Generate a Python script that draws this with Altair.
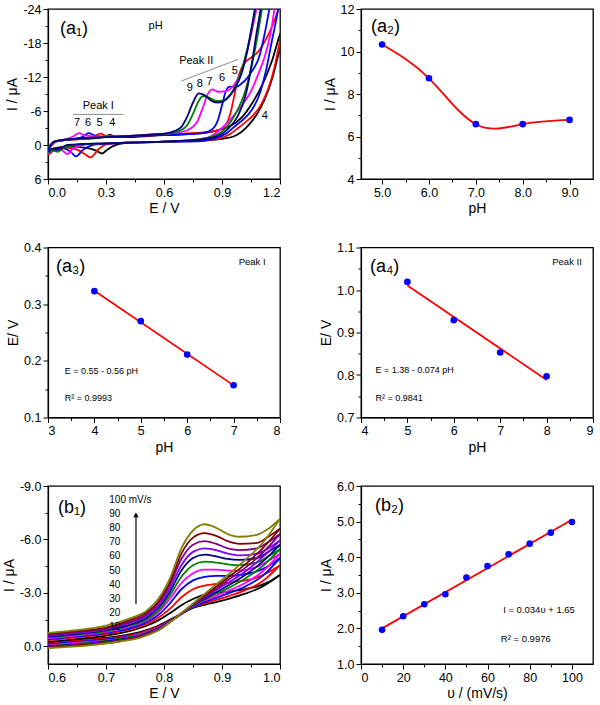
import altair as alt
import pandas as pd

SANS = "Liberation Sans"

# ---------------- (a1) cyclic voltammograms at pH 4-9 ----------------
a1_ph = ["4", "5", "6", "7", "8", "9"]
a1_colors = ["#000000", "#ff0000", "#0000ff", "#ff00ff", "#008000", "#000080"]

a1_ph4_fwd_E = [0.00, 0.04, 0.10, 0.20, 0.27, 0.30, 0.32, 0.345, 0.40, 0.55, 0.70, 0.82, 0.90, 0.94, 1.00, 1.06, 1.12, 1.16, 1.20, 1.22]
a1_ph4_fwd_I = [0.6, -0.6, -0.9, -1.1, -1.3, -1.6, -1.8, -1.5, -1.4, -1.65, -1.9, -2.2, -2.8, -3.3, -4.8, -7.6, -11.5, -15.0, -19.5, -21.0]
a1_ph4_rev_E = [1.22, 1.20, 1.16, 1.12, 1.08, 1.04, 1.00, 0.96, 0.90, 0.80, 0.60, 0.40, 0.33, 0.30, 0.28, 0.25, 0.20, 0.10, 0.03, 0.00]
a1_ph4_rev_I = [-19.0, -17.0, -11.8, -8.0, -5.4, -3.6, -2.3, -1.5, -1.1, -0.8, -0.6, -0.4, 0.3, 1.0, 1.5, 1.0, 0.5, 0.3, 0.6, 1.2]

a1_ph5_fwd_E = [0.00, 0.04, 0.10, 0.20, 0.24, 0.27, 0.30, 0.35, 0.50, 0.70, 0.85, 0.90, 0.93, 0.95, 0.97, 0.99, 1.02, 1.05, 1.08, 1.12, 1.16, 1.20, 1.22]
a1_ph5_fwd_I = [0.8, -0.6, -0.9, -1.1, -1.5, -2.0, -1.6, -1.4, -1.65, -2.0, -2.4, -2.9, -4.2, -6.5, -9.8, -12.6, -14.6, -15.4, -16.2, -18.2, -21.0, -24.5, -26.0]
a1_ph5_rev_E = [1.23, 1.20, 1.17, 1.14, 1.10, 1.06, 1.02, 0.98, 0.94, 0.88, 0.80, 0.60, 0.40, 0.30, 0.26, 0.22, 0.19, 0.15, 0.10, 0.03, 0.00]
a1_ph5_rev_I = [-24.0, -18.5, -13.5, -10.0, -7.0, -5.2, -4.0, -2.9, -1.9, -1.1, -0.8, -0.6, -0.4, -0.1, 0.8, 2.2, 1.6, 0.8, 0.5, 1.0, 1.8]

a1_ph6_fwd_E = [0.00, 0.04, 0.10, 0.16, 0.19, 0.21, 0.24, 0.30, 0.50, 0.70, 0.80, 0.85, 0.88, 0.90, 0.92, 0.94, 0.97, 1.00, 1.03, 1.06, 1.09, 1.12, 1.15]
a1_ph6_fwd_I = [1.0, -0.6, -0.9, -1.2, -1.7, -2.1, -1.7, -1.4, -1.65, -1.9, -2.1, -2.8, -4.5, -7.0, -9.5, -10.3, -10.2, -10.8, -11.8, -13.3, -15.3, -19.5, -25.0]
a1_ph6_rev_E = [1.20, 1.18, 1.16, 1.13, 1.09, 1.05, 1.00, 0.97, 0.92, 0.86, 0.80, 0.60, 0.40, 0.25, 0.18, 0.145, 0.12, 0.08, 0.03, 0.00]
a1_ph6_rev_I = [-26.0, -22.0, -18.7, -13.5, -8.6, -6.0, -4.2, -3.4, -2.0, -1.1, -0.7, -0.55, -0.35, -0.1, 0.9, 2.0, 1.3, 0.6, 0.8, 1.5]

a1_ph7_fwd_E = [0.00, 0.04, 0.10, 0.13, 0.16, 0.19, 0.25, 0.40, 0.55, 0.65, 0.72, 0.77, 0.80, 0.83, 0.85, 0.88, 0.92, 0.96, 1.00, 1.03, 1.06, 1.09]
a1_ph7_fwd_I = [0.8, -0.6, -1.1, -1.5, -2.1, -1.7, -1.5, -1.6, -1.9, -2.1, -2.6, -4.0, -6.5, -9.2, -9.8, -9.4, -9.5, -10.5, -13.0, -16.5, -21.0, -26.0]
a1_ph7_rev_E = [1.18, 1.15, 1.12, 1.10, 1.05, 0.98, 0.90, 0.84, 0.75, 0.60, 0.40, 0.20, 0.13, 0.10, 0.07, 0.03, 0.00]
a1_ph7_rev_I = [-26.0, -19.5, -15.5, -13.6, -9.5, -6.0, -3.0, -1.5, -0.9, -0.6, -0.4, -0.1, 0.6, 1.6, 0.9, 0.8, 1.5]

a1_ph8_fwd_E = [0.00, 0.04, 0.10, 0.30, 0.50, 0.62, 0.68, 0.72, 0.75, 0.78, 0.80, 0.83, 0.87, 0.90, 0.94, 0.98, 1.01, 1.04, 1.07, 1.09]
a1_ph8_fwd_I = [0.5, -0.7, -1.0, -1.4, -1.75, -2.0, -2.5, -3.5, -5.5, -7.8, -8.6, -8.4, -7.8, -7.8, -8.8, -11.2, -14.2, -18.3, -23.5, -27.0]
a1_ph8_rev_E = [1.12, 1.09, 1.06, 1.02, 0.97, 0.92, 0.86, 0.78, 0.60, 0.40, 0.20, 0.08, 0.05, 0.03, 0.00]
a1_ph8_rev_I = [-27.0, -20.5, -15.0, -9.5, -5.5, -3.0, -1.6, -1.0, -0.6, -0.4, -0.2, 0.5, 1.2, 1.0, 1.3]

a1_ph9_fwd_E = [0.00, 0.03, 0.10, 0.30, 0.50, 0.60, 0.65, 0.69, 0.72, 0.75, 0.78, 0.81, 0.85, 0.88, 0.92, 0.96, 1.00, 1.03, 1.06, 1.08]
a1_ph9_fwd_I = [0.8, -0.6, -1.0, -1.4, -1.75, -2.0, -2.4, -3.2, -5.0, -7.5, -9.1, -8.8, -7.7, -7.5, -8.0, -9.6, -12.5, -16.5, -22.0, -26.0]
a1_ph9_rev_E = [1.11, 1.08, 1.05, 1.02, 0.98, 0.93, 0.88, 0.80, 0.60, 0.30, 0.10, 0.05, 0.02, 0.00]
a1_ph9_rev_I = [-26.0, -20.0, -13.5, -8.5, -5.0, -2.8, -1.6, -1.0, -0.6, -0.3, 0.0, 0.8, 0.7, 1.2]

# ---------------- (a2) peak current vs pH ----------------
a2_ph = [5, 6, 7, 8, 9]
a2_I = [10.33, 8.74, 6.58, 6.58, 6.78]

# ---------------- (a3) / (a4) peak potential vs pH ----------------
a3_ph = [4, 5, 6, 7]
a3_E = [0.323, 0.270, 0.211, 0.157]
a4_ph = [5, 6, 7, 8]
a4_E = [1.019, 0.929, 0.853, 0.797]

# ---------------- (b1) CVs at 10-100 mV/s ----------------
b1_rates = ["10", "20", "30", "40", "50", "60", "70", "80", "90", "100"]
b1_colors = ["#000000", "#ff0000", "#0000ff", "#ff00ff", "#008000", "#000080",
             "#8000ff", "#800080", "#800000", "#808000"]
b1_fwd_E = [0.60, 0.65, 0.70, 0.74, 0.77, 0.79, 0.81, 0.83, 0.85, 0.87, 0.89, 0.91, 0.93, 0.96, 0.98, 1.00]
b1_rev_E = [1.00, 0.97, 0.94, 0.91, 0.88, 0.85, 0.82, 0.79, 0.76, 0.72, 0.67, 0.60]

b1_10_fwd = [-0.25, -0.4, -0.6, -0.85, -1.15, -1.45, -1.85, -2.3, -2.65, -2.9, -3.0, -3.05, -3.15, -3.35, -3.6, -4.0]
b1_20_fwd = [-0.35, -0.5, -0.7, -0.95, -1.25, -1.6, -2.1, -2.75, -3.2, -3.4, -3.5, -3.55, -3.65, -3.85, -4.15, -4.55]
b1_30_fwd = [-0.4, -0.55, -0.75, -1.0, -1.35, -1.75, -2.4, -3.2, -3.7, -3.9, -3.95, -3.95, -4.0, -4.2, -4.5, -4.95]
b1_40_fwd = [-0.45, -0.6, -0.8, -1.1, -1.45, -1.9, -2.65, -3.55, -4.1, -4.3, -4.3, -4.25, -4.25, -4.45, -4.8, -5.2]
b1_50_fwd = [-0.5, -0.65, -0.85, -1.15, -1.5, -2.0, -2.85, -3.9, -4.55, -4.75, -4.7, -4.6, -4.55, -4.7, -5.05, -5.45]
b1_60_fwd = [-0.55, -0.7, -0.9, -1.2, -1.6, -2.15, -3.05, -4.25, -4.95, -5.15, -5.05, -4.9, -4.85, -4.95, -5.3, -5.7]
b1_70_fwd = [-0.6, -0.75, -0.95, -1.3, -1.7, -2.25, -3.25, -4.55, -5.3, -5.5, -5.4, -5.2, -5.1, -5.2, -5.5, -5.95]
b1_80_fwd = [-0.65, -0.8, -1.0, -1.35, -1.8, -2.4, -3.45, -4.9, -5.7, -5.9, -5.75, -5.5, -5.4, -5.5, -5.85, -6.3]
b1_90_fwd = [-0.7, -0.85, -1.05, -1.45, -1.9, -2.5, -3.6, -5.2, -6.1, -6.35, -6.2, -5.9, -5.75, -5.8, -6.15, -6.6]
b1_100_fwd = [-0.75, -0.9, -1.15, -1.55, -2.0, -2.65, -3.8, -5.5, -6.5, -6.85, -6.65, -6.3, -6.15, -6.25, -6.6, -7.15]

b1_10_rev = [-4.0, -3.35, -2.95, -2.65, -2.4, -2.15, -1.65, -1.15, -0.8, -0.55, -0.4, -0.2]
b1_20_rev = [-4.55, -3.65, -3.15, -2.8, -2.5, -2.2, -1.6, -1.1, -0.75, -0.5, -0.35, -0.15]
b1_30_rev = [-4.95, -3.95, -3.35, -2.95, -2.6, -2.2, -1.6, -1.05, -0.7, -0.45, -0.3, -0.1]
b1_40_rev = [-5.2, -4.2, -3.55, -3.1, -2.7, -2.25, -1.6, -1.05, -0.7, -0.4, -0.25, -0.05]
b1_50_rev = [-5.45, -4.5, -3.8, -3.25, -2.8, -2.25, -1.6, -1.0, -0.65, -0.4, -0.2, 0.0]
b1_60_rev = [-5.7, -4.75, -4.0, -3.4, -2.85, -2.3, -1.6, -1.0, -0.6, -0.35, -0.15, 0.0]
b1_70_rev = [-5.95, -5.0, -4.2, -3.55, -2.95, -2.3, -1.6, -0.95, -0.6, -0.3, -0.15, 0.05]
b1_80_rev = [-6.3, -5.25, -4.4, -3.7, -3.0, -2.35, -1.6, -0.95, -0.55, -0.3, -0.1, 0.05]
b1_90_rev = [-6.6, -5.5, -4.6, -3.85, -3.1, -2.35, -1.6, -0.9, -0.55, -0.25, -0.1, 0.08]
b1_100_rev = [-7.15, -5.8, -4.85, -4.0, -3.2, -2.4, -1.6, -0.9, -0.5, -0.25, -0.05, 0.1]

# ---------------- (b2) peak current vs scan rate ----------------
b2_rate = [10, 20, 30, 40, 50, 60, 70, 80, 90, 100]
b2_I = [1.96, 2.34, 2.68, 2.96, 3.43, 3.75, 4.08, 4.38, 4.69, 4.99]


# ---------------- helpers ----------------
def make_axis(title, major, minor, fmt):
    majors = ",".join(repr(v) for v in major)
    is_major = f"indexof([{majors}], datum.value) >= 0"
    return alt.Axis(
        title=title,
        values=sorted(major + minor),
        labelExpr=f"{is_major} ? replace(format(datum.value, '{fmt}'), '\u2212', '-') : ''",
        tickSize={"condition": {"test": f"indexof([{majors}], datum.value) < 0", "value": 3}, "value": 5},
        labelOverlap=False,
    )


def encodings(xdom, xaxis, ydom, yaxis, yrev=False):
    x = alt.X("x:Q", scale=alt.Scale(domain=xdom, nice=False, zero=False), axis=xaxis)
    y = alt.Y("y:Q", scale=alt.Scale(domain=ydom, nice=False, zero=False, reverse=yrev), axis=yaxis)
    return x, y


def letter(txt, px, py):
    return alt.Chart(pd.DataFrame({"t": [txt]})).mark_text(
        align="left", baseline="middle", fontSize=18, font=SANS, color="black"
    ).encode(x=alt.value(px), y=alt.value(py), text="t:N")


def notes(X, Y, xs, ys, labels, size=10.5, align="left"):
    df = pd.DataFrame({"x": xs, "y": ys, "t": labels})
    return alt.Chart(df).mark_text(
        align=align, baseline="middle", fontSize=size, font=SANS, color="black"
    ).encode(x=X, y=Y, text="t:N")


def curves_frame(groups):
    rows = []
    for key, seg, e_vals, i_vals in groups:
        for e, i in zip(e_vals, i_vals):
            rows.append({"c": key, "seg": f"{key}-{seg}", "x": e, "y": i})
    return pd.DataFrame(rows)


# ---------------- panel a1 ----------------
X1, Y1 = encodings(
    [0, 1.2], make_axis("E / V", [0, 0.3, 0.6, 0.9, 1.2], [0.15, 0.45, 0.75, 1.05], ".1f"),
    [-24, 6], make_axis("I / \u03bcA", [-24, -18, -12, -6, 0, 6], [-21, -15, -9, -3, 3], "d"),
    yrev=True,
)
a1_df = curves_frame([
    ("4", "f", a1_ph4_fwd_E, a1_ph4_fwd_I), ("4", "r", a1_ph4_rev_E, a1_ph4_rev_I),
    ("5", "f", a1_ph5_fwd_E, a1_ph5_fwd_I), ("5", "r", a1_ph5_rev_E, a1_ph5_rev_I),
    ("6", "f", a1_ph6_fwd_E, a1_ph6_fwd_I), ("6", "r", a1_ph6_rev_E, a1_ph6_rev_I),
    ("7", "f", a1_ph7_fwd_E, a1_ph7_fwd_I), ("7", "r", a1_ph7_rev_E, a1_ph7_rev_I),
    ("8", "f", a1_ph8_fwd_E, a1_ph8_fwd_I), ("8", "r", a1_ph8_rev_E, a1_ph8_rev_I),
    ("9", "f", a1_ph9_fwd_E, a1_ph9_fwd_I), ("9", "r", a1_ph9_rev_E, a1_ph9_rev_I),
])
a1_lines = alt.Chart(a1_df).mark_line(interpolate="monotone", strokeWidth=1.8, clip=True).encode(
    x=X1, y=Y1,
    color=alt.Color("c:N", scale=alt.Scale(domain=a1_ph, range=a1_colors), legend=None),
    detail="seg:N",
)
a1_guides = alt.Chart(pd.DataFrame({
    "x": [0.13, 0.69], "x2": [0.39, 0.983], "y": [-5.4, -11.3], "y2": [-5.4, -15.1]
})).mark_rule(color="#8a8a8a", strokeWidth=1).encode(x=X1, y=Y1, x2="x2:Q", y2="y2:Q")
a1 = alt.layer(
    a1_lines, a1_guides,
    notes(X1, Y1, [0.52], [-21.0], ["pH"], size=11),
    notes(X1, Y1, [0.26, 0.767], [-6.9, -14.8], ["Peak I", "Peak II"], size=11, align="center"),
    notes(X1, Y1, [0.15, 0.207, 0.267, 0.333], [-3.8] * 4, ["7", "6", "5", "4"], size=11, align="center"),
    notes(X1, Y1, [0.733, 0.785, 0.836, 0.9, 0.966], [-10.1, -10.7, -11.1, -11.9, -13.1],
          ["9", "8", "7", "6", "5"], size=11, align="center"),
    notes(X1, Y1, [1.121], [-5.1], ["4"], size=11, align="center"),
    letter("(a\u2081)", 12, 20),
).properties(width=232, height=170)

# ---------------- panel a2 ----------------
X2, Y2 = encodings(
    [4.55, 9.5], make_axis("pH", [5, 6, 7, 8, 9], [5.5, 6.5, 7.5, 8.5], ".1f"),
    [4, 12], make_axis("I / \u03bcA", [4, 6, 8, 10, 12], [5, 7, 9, 11], "d"),
)
a2_df = pd.DataFrame({"x": a2_ph, "y": a2_I})
a2 = alt.layer(
    alt.Chart(a2_df).mark_line(interpolate="natural", color="#ff0000", strokeWidth=1.8).encode(x=X2, y=Y2),
    alt.Chart(a2_df).mark_circle(size=44, color="#0000ff", opacity=1).encode(x=X2, y=Y2),
    letter("(a\u2082)", 10, 18),
).properties(width=232, height=170)

# ---------------- panel a3 ----------------
X3, Y3 = encodings(
    [3, 8], make_axis("pH", [3, 4, 5, 6, 7, 8], [3.5, 4.5, 5.5, 6.5, 7.5], "d"),
    [0.1, 0.4], make_axis("E/ V", [0.1, 0.2, 0.3, 0.4], [0.15, 0.25, 0.35], ".1f"),
)
a3_df = pd.DataFrame({"x": a3_ph, "y": a3_E})
a3 = alt.layer(
    alt.Chart(a3_df).transform_regression("x", "y").mark_line(color="#ff0000", strokeWidth=1.8).encode(x=X3, y=Y3),
    alt.Chart(a3_df).mark_circle(size=44, color="#0000ff", opacity=1).encode(x=X3, y=Y3),
    notes(X3, Y3, [7.4], [0.375], ["Peak I"], size=9.5, align="center"),
    notes(X3, Y3, [3.36, 3.36], [0.182, 0.134], ["E  = 0.55 - 0.56 pH", "R\u00b2 = 0.9993"], size=9),
    letter("(a\u2083)", 8, 19),
).properties(width=232, height=170)

# ---------------- panel a4 ----------------
X4, Y4 = encodings(
    [4, 9], make_axis("pH", [4, 5, 6, 7, 8, 9], [4.5, 5.5, 6.5, 7.5, 8.5], "d"),
    [0.7, 1.1], make_axis("E/ V", [0.7, 0.8, 0.9, 1.0, 1.1], [0.75, 0.85, 0.95, 1.05], ".1f"),
)
a4_df = pd.DataFrame({"x": a4_ph, "y": a4_E})
a4 = alt.layer(
    alt.Chart(a4_df).transform_regression("x", "y").mark_line(color="#ff0000", strokeWidth=1.8).encode(x=X4, y=Y4),
    alt.Chart(a4_df).mark_circle(size=44, color="#0000ff", opacity=1).encode(x=X4, y=Y4),
    notes(X4, Y4, [8.44], [1.065], ["Peak II"], size=9.5, align="center"),
    notes(X4, Y4, [4.31, 4.31], [0.812, 0.745], ["E  = 1.38 - 0.074 pH", "R\u00b2 = 0.9841"], size=9),
    letter("(a\u2084)", 9, 19),
).properties(width=232, height=170)

# ---------------- panel b1 ----------------
X5, Y5 = encodings(
    [0.6, 1.0], make_axis("E / V", [0.6, 0.7, 0.8, 0.9, 1.0], [0.65, 0.75, 0.85, 0.95], ".1f"),
    [-9, 1], make_axis("I / \u03bcA", [-9, -6, -3, 0], [-7.5, -4.5, -1.5], ".1f"),
    yrev=True,
)
b1_fwd = [b1_10_fwd, b1_20_fwd, b1_30_fwd, b1_40_fwd, b1_50_fwd,
          b1_60_fwd, b1_70_fwd, b1_80_fwd, b1_90_fwd, b1_100_fwd]
b1_rev = [b1_10_rev, b1_20_rev, b1_30_rev, b1_40_rev, b1_50_rev,
          b1_60_rev, b1_70_rev, b1_80_rev, b1_90_rev, b1_100_rev]
b1_groups = []
for rate, f, r in zip(b1_rates, b1_fwd, b1_rev):
    b1_groups.append((rate, "f", b1_fwd_E, f))
    b1_groups.append((rate, "r", b1_rev_E, r))
b1_df = curves_frame(b1_groups)
b1_lines = alt.Chart(b1_df).mark_line(interpolate="monotone", strokeWidth=1.8, clip=True).encode(
    x=X5, y=Y5,
    color=alt.Color("c:N", scale=alt.Scale(domain=b1_rates, range=b1_colors), legend=None),
    detail="seg:N",
)
b1_arrow = alt.Chart(pd.DataFrame({"x": [0.7517], "y": [-2.37], "y2": [-7.3]})).mark_rule(
    color="black", strokeWidth=1.2).encode(x=X5, y=Y5, y2="y2:Q")
b1_head = alt.Chart(pd.DataFrame({"x": [0.7517], "y": [-7.38]})).mark_point(
    shape="triangle-up", filled=True, size=28, color="black", opacity=1).encode(x=X5, y=Y5)
b1_label_y = [-8.2, -7.45, -6.65, -5.85, -5.05, -4.25, -3.45, -2.65, -1.85, -1.1]
b1_label_t = ["100 mV/s", "90", "80", "70", "60", "50", "40", "30", "20", "10"]
b1 = alt.layer(
    b1_lines, b1_arrow, b1_head,
    notes(X5, Y5, [0.7057] * 10, b1_label_y, b1_label_t, size=10),
    letter("(b\u2081)", 10, 22),
).properties(width=232, height=178)

# ---------------- panel b2 ----------------
X6, Y6 = encodings(
    [0, 110], make_axis("\u03c5 / (mV/s)", [0, 20, 40, 60, 80, 100], [10, 30, 50, 70, 90], "d"),
    [1, 6], make_axis("I / \u03bcA", [1, 2, 3, 4, 5, 6], [1.5, 2.5, 3.5, 4.5, 5.5], ".1f"),
)
b2_df = pd.DataFrame({"x": b2_rate, "y": b2_I})
b2 = alt.layer(
    alt.Chart(b2_df).transform_regression("x", "y").mark_line(color="#ff0000", strokeWidth=1.8).encode(x=X6, y=Y6),
    alt.Chart(b2_df).mark_circle(size=44, color="#0000ff", opacity=1).encode(x=X6, y=Y6),
    notes(X6, Y6, [67.4, 66.3], [2.52, 1.71], ["I  = 0.034\u03c5 + 1.65", "R\u00b2 = 0.9976"], size=9.5),
    letter("(b\u2082)", 14, 20),
).properties(width=232, height=178)

chart = alt.concat(
    a1, a2, a3, a4, b1, b2, columns=2, spacing={"row": 68.5, "column": 81}, bounds="flush"
).resolve_scale(
    color="independent"
).properties(
    padding={"left": 1, "top": 2, "right": 0, "bottom": 0}, background="white"
).configure_view(
    stroke="black", strokeWidth=1.3
).configure_axis(
    labelFont=SANS, labelFontSize=12.5, labelColor="black",
    titleFont=SANS, titleFontSize=14, titleFontWeight="normal", titleColor="black",
    tickColor="black", domainColor="black", domainWidth=1.2, tickWidth=1,
    labelPadding=2, titlePadding=3, grid=False,
)

chart.save("out.html", embed_options={"renderer": "svg", "actions": False})
